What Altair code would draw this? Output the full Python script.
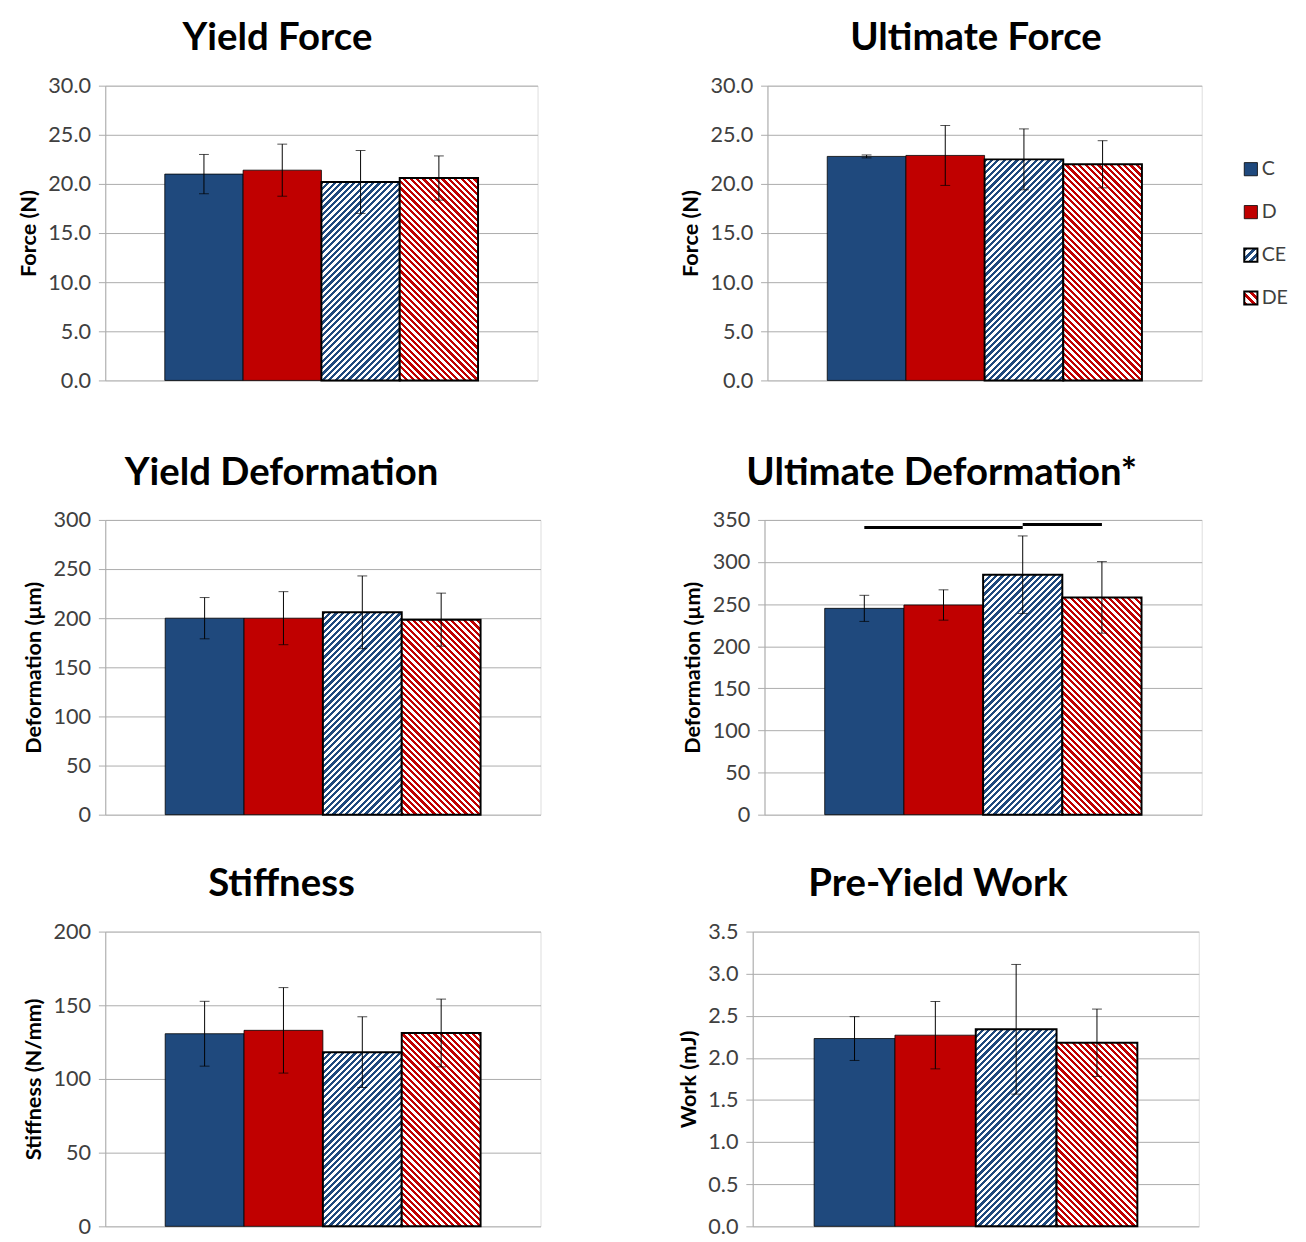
import altair as alt
import pandas as pd

# ---------------- data ----------------
groups = ["C", "D", "CE", "DE"]

yield_force_mean = [21.0, 21.4, 20.2, 20.6]
yield_force_sd = [2.0, 2.65, 3.2, 2.25]

ultimate_force_mean = [22.8, 22.9, 22.5, 22.0]
ultimate_force_sd = [0.15, 3.05, 3.1, 2.4]

yield_def_mean = [200.0, 200.0, 206.0, 198.5]
yield_def_sd = [21.0, 27.0, 37.0, 27.0]

ultimate_def_mean = [245.0, 249.0, 285.0, 258.0]
ultimate_def_sd = [15.5, 18.0, 46.0, 42.5]

stiffness_mean = [130.7, 133.0, 118.2, 131.2]
stiffness_sd = [22.0, 29.0, 24.0, 23.0]

work_mean = [2.23, 2.27, 2.34, 2.18]
work_sd = [0.26, 0.40, 0.77, 0.40]

# significance bars on Ultimate Deformation
sig_from = ["C", "CE"]
sig_to = ["CE", "DE"]
sig_level = [341.0, 344.5]

# ---------------- style ----------------
H = 300
PO = 0.76
BLUE = "#1F497D"
RED = "#C00000"
FONT = "Lato"
GRID = "#ABABAB"
LABEL = "#404040"


def hatch(color, w, h, direction, period=6.5, frac=0.5):
    """Diagonal stripes built as a hard-stop linear gradient (bbox units)."""
    k = (w + h) / (w * w + h * h)
    p = period / (w + h)
    stops = []
    i = 0
    while i * p < 1:
        a = i * p
        b = min(a + frac * p, 1.0)
        c = min((i + 1) * p, 1.0)
        stops += [
            alt.GradientStop(color=color, offset=round(a, 5)),
            alt.GradientStop(color=color, offset=round(b, 5)),
            alt.GradientStop(color="white", offset=round(b, 5)),
            alt.GradientStop(color="white", offset=round(c, 5)),
        ]
        i += 1
    if direction == "/":
        x1, y1, x2, y2 = 0, 0, k * w, k * h
    else:
        x1, y1, x2, y2 = 0, 1, k * w, 1 - k * h
    return alt.LinearGradient(gradient="linear", stops=stops,
                              x1=x1, y1=y1, x2=x2, y2=y2)


def panel(title, ytitle, means, sds, ymax, tick_step, fmt, width,
          title_dx=0, sig=None):
    bar_w = width / (4 + 2 * PO)
    df = pd.DataFrame({"group": groups, "mean": means, "sd": sds})
    base = alt.Chart(df)
    ticks = []
    v = 0.0
    while v <= ymax + 1e-9:
        ticks.append(round(v, 4))
        v += tick_step
    xenc = alt.X("group:N", sort=groups,
                 scale=alt.Scale(domain=groups, paddingInner=0, paddingOuter=PO),
                 axis=None)
    yscale = alt.Scale(domain=[0, ymax], nice=False, zero=True)
    yaxis = alt.Axis(values=ticks, format=fmt, grid=True, gridColor=GRID,
                     domainColor=GRID, tickColor=GRID, tickSize=7,
                     labelFont=FONT, labelFontSize=22, labelColor=LABEL,
                     labelPadding=8, labelOverlap=False,
                     titleFont=FONT, titleFontSize=22, titleFontWeight="bold",
                     titleColor="black", titlePadding=8)

    def yenc(field):
        return alt.Y(field, scale=yscale, axis=yaxis, title=ytitle)

    layers = []
    for g, m in zip(groups, means):
        h = m / ymax * H
        if g == "C":
            mk = dict(fill=BLUE, stroke="black", strokeWidth=0.8)
        elif g == "D":
            mk = dict(fill=RED, stroke="black", strokeWidth=0.8)
        elif g == "CE":
            mk = dict(fill=hatch(BLUE, bar_w, h, "/"), stroke="black", strokeWidth=2)
        else:
            mk = dict(fill=hatch(RED, bar_w, h, "\\"), stroke="black", strokeWidth=2)
        layers.append(
            base.transform_filter(alt.datum.group == g)
            .mark_bar(**mk)
            .encode(x=xenc, y=yenc("mean:Q"))
        )

    err = base.transform_calculate(lo="datum.mean - datum.sd",
                                   hi="datum.mean + datum.sd")
    layers.append(err.mark_rule(color="black", strokeWidth=1)
                  .encode(x=xenc, y=yenc("lo:Q"), y2="hi:Q"))
    layers.append(err.mark_tick(color="black", thickness=1, size=10,
                                orient="horizontal")
                  .encode(x=xenc, y=yenc("lo:Q")))
    layers.append(err.mark_tick(color="black", thickness=1, size=10,
                                orient="horizontal")
                  .encode(x=xenc, y=yenc("hi:Q")))

    if sig is not None:
        sdf = pd.DataFrame({"from": sig[0], "to": sig[1], "level": sig[2]})
        layers.append(alt.Chart(sdf).mark_rule(color="black", strokeWidth=3)
                      .encode(x=alt.X("from:N", scale=alt.Scale(domain=groups), axis=None),
                              x2="to:N", y=yenc("level:Q")))

    return alt.layer(*layers).properties(
        width=width, height=H,
        title=alt.TitleParams(title, font=FONT, fontSize=39, fontWeight="bold",
                              color="black", anchor="middle", frame="bounds",
                              offset=17, dx=title_dx),
    )


def legend():
    ldf = pd.DataFrame({"group": groups, "idx": [0, 1, 2, 3]})
    lb = alt.Chart(ldf)
    yl = alt.Y("idx:Q", scale=alt.Scale(domain=[-1.945, 4.92], nice=False,
                                        zero=False, reverse=True), axis=None)
    layers = []
    for g in groups:
        if g == "C":
            mk = dict(fill=BLUE, stroke="black", strokeWidth=0.8)
        elif g == "D":
            mk = dict(fill=RED, stroke="black", strokeWidth=0.8)
        elif g == "CE":
            mk = dict(fill=hatch(BLUE, 14, 14, "/", period=9), stroke="black", strokeWidth=2)
        else:
            mk = dict(fill=hatch(RED, 14, 14, "\\", period=9), stroke="black", strokeWidth=2)
        layers.append(lb.transform_filter(alt.datum.group == g)
                      .mark_square(size=180, opacity=1, **mk)
                      .encode(x=alt.value(8), y=yl))
    layers.append(lb.mark_text(align="left", baseline="middle", font=FONT,
                               fontSize=20, color=LABEL)
                  .encode(x=alt.value(19), y=yl, text="group:N"))
    return alt.layer(*layers).properties(
        width=50, height=300, view=alt.ViewBackground(stroke="transparent"))


p1 = panel("Yield Force", "Force (N)", yield_force_mean, yield_force_sd,
           30, 5, ".1f", 440)
p2 = panel("Ultimate Force", "Force (N)", ultimate_force_mean, ultimate_force_sd,
           30, 5, ".1f", 442, title_dx=36)
p3 = panel("Yield Deformation", "Deformation (µm)", yield_def_mean, yield_def_sd,
           300, 50, "d", 443)
p4 = panel("Ultimate Deformation*", "Deformation (µm)", ultimate_def_mean, ultimate_def_sd,
           350, 50, "d", 445, sig=(sig_from, sig_to, sig_level))
p5 = panel("Stiffness", "Stiffness (N/mm)", stiffness_mean, stiffness_sd,
           200, 50, "d", 443)
p6 = panel("Pre-Yield Work", "Work (mJ)", work_mean, work_sd,
           3.5, 0.5, ".1f", 454)

row1 = alt.hconcat(p1, alt.hconcat(p2, legend(), spacing=37), spacing=143)
row2 = alt.hconcat(p3, p4, spacing=142)
row3 = alt.hconcat(p5, p6, spacing=137)

chart = alt.vconcat(alt.vconcat(row1, row2, spacing=62), row3, spacing=39).properties(
    padding={"left": 9, "top": 0, "right": 5, "bottom": 0}
).configure_view(
    stroke=GRID, strokeWidth=1
).configure(background="white")

chart.save("out.html", embed_options={"renderer": "svg", "actions": False})
